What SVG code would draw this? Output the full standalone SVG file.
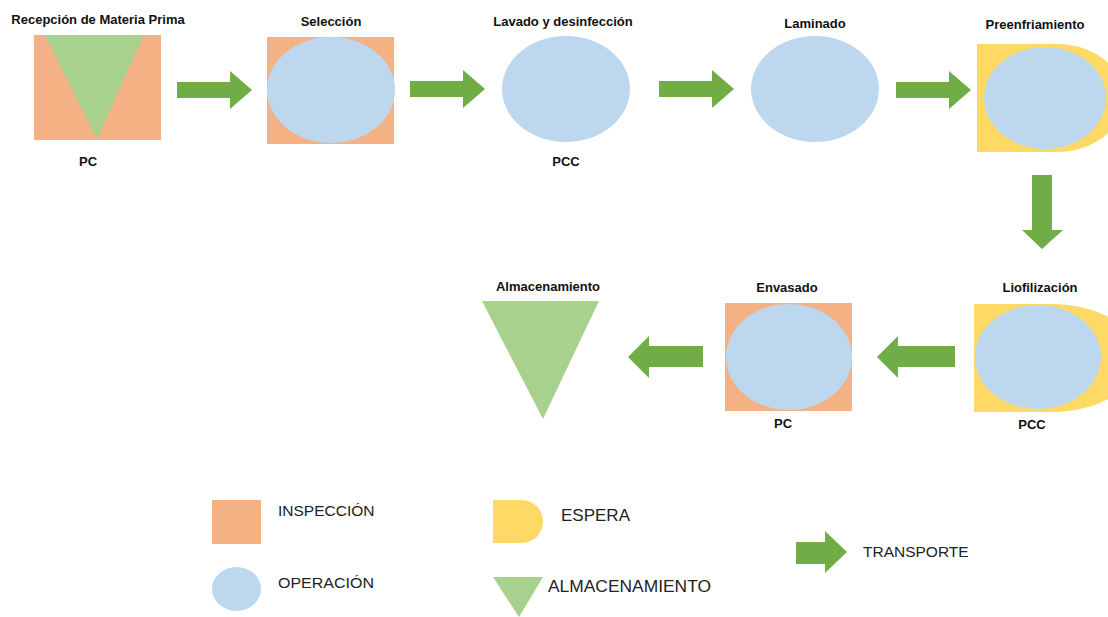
<svg xmlns="http://www.w3.org/2000/svg" width="1108" height="617" viewBox="0 0 1108 617">
<defs>
<style>
.insp{fill:#F4B183}
.op{fill:#BDD7EE}
.alm{fill:#A9D18E}
.esp{fill:#FFD966}
.tr{fill:#70AD47}
.lbl{font-family:"Liberation Sans",Arial,sans-serif;font-weight:bold;font-size:13px;fill:#111;text-anchor:middle}
.leg{font-family:"Liberation Sans",Arial,sans-serif;font-size:15.5px;fill:#222}
.leg2{font-family:"Liberation Sans",Arial,sans-serif;font-size:17px;fill:#222}
</style>
<path id="arR" d="M0,-8 H53 V-19 L75,0 L53,19 V8 H0 Z"/>
</defs>
<rect width="1108" height="617" fill="#fff"/>

<g id="connectors">
<use href="#arR" class="tr" transform="translate(177,90)"/>
<use href="#arR" class="tr" transform="translate(410,89)"/>
<use href="#arR" class="tr" transform="translate(659,89)"/>
<use href="#arR" class="tr" transform="translate(896,90)"/>
<path class="tr" d="M1032,175 H1052 V230 H1063 L1042,249 L1022,230 H1032 Z"/>
<path class="tr" d="M955,346 V367 H898 V378 L877,357 L898,336 V346 Z"/>
<path class="tr" d="M703,346 V367 H649 V378 L628,357 L649,336 V346 Z"/>
</g>

<g id="n1">
<rect class="insp" x="34" y="35" width="127" height="105"/>
<polygon class="alm" points="45,35 144,35 97,139"/>
<text class="lbl" x="98" y="24">Recepción de Materia Prima</text>
<text class="lbl" x="88" y="166">PC</text>
</g>

<g id="n2">
<rect class="insp" x="267" y="37" width="127" height="107"/>
<ellipse class="op" cx="331" cy="90" rx="64" ry="53"/>
<text class="lbl" x="331" y="26">Selección</text>
</g>

<g id="n3">
<ellipse class="op" cx="566" cy="89" rx="64" ry="53"/>
<text class="lbl" x="563" y="26">Lavado y desinfección</text>
<text class="lbl" x="566" y="166">PCC</text>
</g>

<g id="n4">
<ellipse class="op" cx="815" cy="89" rx="64" ry="53"/>
<text class="lbl" x="815" y="28">Laminado</text>
</g>

<g id="n5">
<path class="esp" d="M977,44 H1057 A67,54 0 0 1 1057,152 H977 Z"/>
<ellipse class="op" cx="1045" cy="98" rx="61" ry="51"/>
<text class="lbl" x="1035" y="29">Preenfriamiento</text>
</g>

<g id="n6">
<path class="esp" d="M974,304 H1050 A90,54 0 0 1 1050,412 H974 Z"/>
<ellipse class="op" cx="1038" cy="357" rx="63" ry="52"/>
<text class="lbl" x="1040" y="292">Liofilización</text>
<text class="lbl" x="1032" y="429">PCC</text>
</g>

<g id="n7">
<rect class="insp" x="725" y="303" width="127" height="108"/>
<ellipse class="op" cx="789" cy="357" rx="63" ry="53"/>
<text class="lbl" x="787" y="292">Envasado</text>
<text class="lbl" x="783" y="428">PC</text>
</g>

<g id="n8">
<polygon class="alm" points="482,301 599,301 543,419"/>
<text class="lbl" x="548" y="291">Almacenamiento</text>
</g>

<g id="legend">
<rect class="insp" x="212" y="500" width="49" height="44"/>
<text class="leg" x="278" y="516">INSPECCIÓN</text>
<ellipse class="op" cx="236.5" cy="589" rx="24.5" ry="22"/>
<text class="leg" x="278" y="588" textLength="96" lengthAdjust="spacingAndGlyphs">OPERACIÓN</text>
<path class="esp" d="M493,500 H522 A21,21.5 0 0 1 522,543 H493 Z"/>
<text class="leg2" x="561" y="521">ESPERA</text>
<polygon class="alm" points="493,577 543,577 519,617"/>
<text class="leg2" x="548" y="592" textLength="163" lengthAdjust="spacingAndGlyphs">ALMACENAMIENTO</text>
<path class="tr" d="M796,542 H825 V531 L847,552 L825,573 V564 H796 Z"/>
<text class="leg" x="863" y="557">TRANSPORTE</text>
</g>
</svg>
